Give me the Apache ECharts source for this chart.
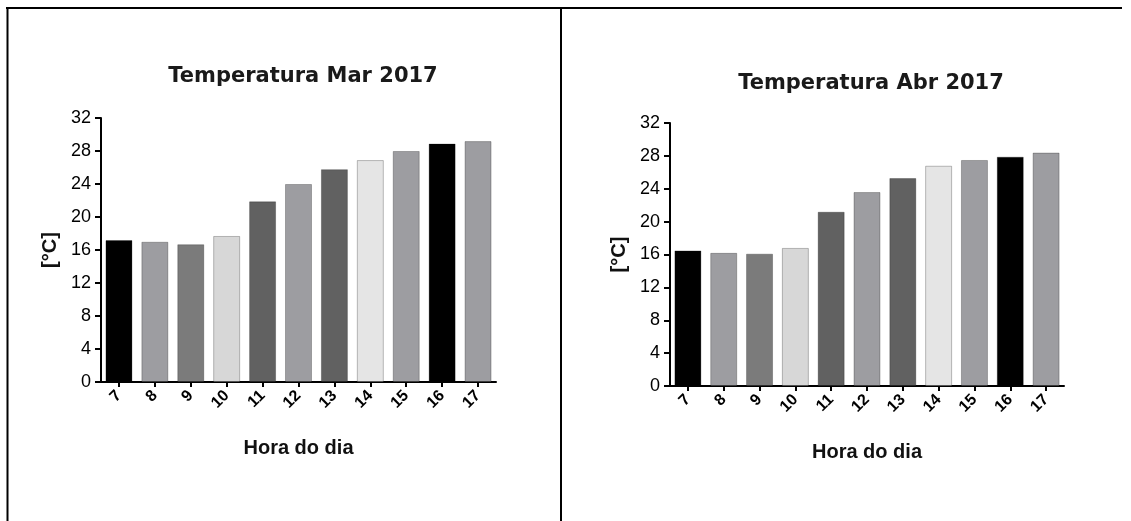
<!DOCTYPE html>
<html>
<head>
<meta charset="utf-8">
<script src="https://cdn.jsdelivr.net/npm/echarts@6/dist/echarts.min.js"></script>
<style>
  html, body { margin: 0; padding: 0; background: #fff; }
  #chart { width: 1131px; height: 521px; }
</style>
</head>
<body>
<div id="chart"></div>
<script>
// Hour of day (categories shared by both panels)
const hours = ['7', '8', '9', '10', '11', '12', '13', '14', '15', '16', '17'];

// Mean temperature per hour, March 2017 [°C]
const tempMar = [17.2, 17.0, 16.7, 17.7, 21.9, 24.0, 25.8, 26.9, 28.0, 28.9, 29.2];

// Mean temperature per hour, April 2017 [°C]
const tempAbr = [16.5, 16.2, 16.1, 16.8, 21.2, 23.6, 25.3, 26.8, 27.5, 27.9, 28.4];

// Titles and axis names
const panelTitles = ['Temperatura Mar 2017', 'Temperatura Abr 2017'];
const xName = 'Hora do dia';
const yName = '[°C]';

// Grey fill per bar
const barFills = ['#000000', '#9d9da1', '#7b7b7b', '#d7d7d7', '#616161', '#9d9da1',
                  '#616161', '#e5e5e5', '#9d9da1', '#000000', '#9d9da1'];

const chart = echarts.init(document.getElementById('chart'));

const grids = [
  { left: 101, top: 118, width: 395, height: 264 },
  { left: 670, top: 123, width: 394, height: 263 }
];

function xAxisFor(i) {
  return {
    type: 'category',
    gridIndex: i,
    data: hours,
    boundaryGap: true,
    name: xName,
    nameLocation: 'middle',
    nameGap: 56,
    nameTextStyle: { fontFamily: 'Liberation Sans', fontWeight: 'bold', fontSize: 20, color: '#111' },
    axisLine: { show: true, lineStyle: { color: '#000', width: 2 } },
    axisTick: { show: true, alignWithLabel: true, length: 5, lineStyle: { color: '#000', width: 2 } },
    axisLabel: {
      rotate: 45, margin: 11, interval: 0,
      fontFamily: 'Liberation Sans', fontWeight: 'bold', fontSize: 16, color: '#000'
    },
    splitLine: { show: false }
  };
}

function yAxisFor(i) {
  return {
    type: 'value',
    gridIndex: i,
    min: 0, max: 32, interval: 4,
    name: yName,
    nameLocation: 'middle',
    nameRotate: 90,
    nameGap: 41,
    nameTextStyle: { fontFamily: 'Liberation Sans', fontWeight: 'bold', fontSize: 20, color: '#111' },
    axisLine: { show: true, lineStyle: { color: '#000', width: 2 } },
    axisTick: { show: true, length: 6, lineStyle: { color: '#000', width: 2 } },
    axisLabel: { margin: 10, fontFamily: 'Liberation Sans', fontSize: 18, color: '#000' },
    splitLine: { show: false }
  };
}

function barSeries(i, values) {
  return {
    type: 'bar',
    xAxisIndex: i,
    yAxisIndex: i,
    barWidth: 27,
    silent: true,
    data: values.map((v, k) => ({
      value: v,
      itemStyle: { color: barFills[k], borderColor: 'rgba(0,0,0,0.25)', borderWidth: 1 }
    }))
  };
}

chart.setOption({
  animation: false,
  backgroundColor: '#fff',
  title: [
    { text: panelTitles[0], left: 298, top: 61, textAlign: 'center',
      textStyle: { fontFamily: 'DejaVu Sans', fontWeight: 'bold', fontSize: 21, color: '#1a1a1a' } },
    { text: panelTitles[1], left: 866, top: 68, textAlign: 'center',
      textStyle: { fontFamily: 'DejaVu Sans', fontWeight: 'bold', fontSize: 21, color: '#1a1a1a' } }
  ],
  grid: grids,
  xAxis: [xAxisFor(0), xAxisFor(1)],
  yAxis: [yAxisFor(0), yAxisFor(1)],
  series: [barSeries(0, tempMar), barSeries(1, tempAbr)],
  // Table frame around the two panels
  graphic: [
    { type: 'line', silent: true, shape: { x1: 6, y1: 8, x2: 1122, y2: 8 }, style: { stroke: '#000', lineWidth: 2 } },
    { type: 'line', silent: true, shape: { x1: 7.5, y1: 7, x2: 7.5, y2: 521 }, style: { stroke: '#000', lineWidth: 2 } },
    { type: 'line', silent: true, shape: { x1: 561, y1: 7, x2: 561, y2: 521 }, style: { stroke: '#000', lineWidth: 2 } }
  ]
});
</script>
</body>
</html>
